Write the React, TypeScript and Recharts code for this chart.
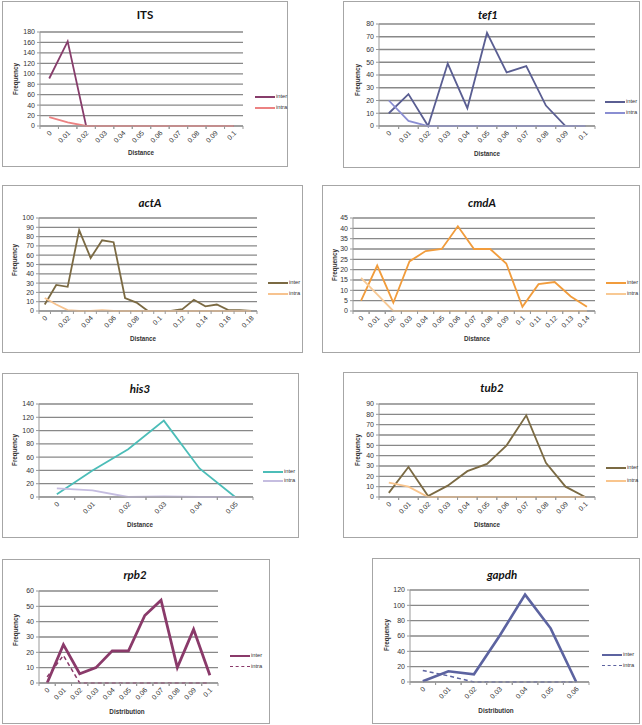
import React from "react";
import { LineChart, Line, XAxis, YAxis, CartesianGrid } from "recharts";

// categories
const dist6 = ["0", "0.01", "0.02", "0.03", "0.04", "0.05"];
const dist7 = ["0", "0.01", "0.02", "0.03", "0.04", "0.05", "0.06"];
const dist11 = ["0", "0.01", "0.02", "0.03", "0.04", "0.05", "0.06", "0.07", "0.08", "0.09", "0.1"];
const dist15 = ["0", "0.01", "0.02", "0.03", "0.04", "0.05", "0.06", "0.07", "0.08", "0.09", "0.1", "0.11", "0.12", "0.13", "0.14"];
const dist19 = ["0", "0.01", "0.02", "0.03", "0.04", "0.05", "0.06", "0.07", "0.08", "0.09", "0.1", "0.11", "0.12", "0.13", "0.14", "0.15", "0.16", "0.17", "0.18"];

// series values
const itsInter = [91, 162, 0, 0, 0, 0, 0, 0, 0, 0, 0];
const itsIntra = [17, 7, 0, 0, 0, 0, 0, 0, 0, 0, 0];
const tef1Inter = [10, 25, 0, 49, 14, 73, 42, 47, 16, 0, 0];
const tef1Intra = [20, 4, 0, 0, 0, 0, 0, 0, 0, 0, 0];
const actAInter = [7, 28, 26, 87, 57, 76, 74, 14, 9, 0, 0, 0, 2, 12, 5, 7, 1, 1, 0];
const actAIntra = [14, 7, 1, 0, 0, 1, 0, 0, 0, 0, 0, 0, 0, 0, 0, 0, 0, 0, 0];
const cmdAInter = [5, 22, 4, 24, 29, 30, 41, 30, 30, 23, 2, 13, 14, 7, 2];
const cmdAIntra = [16, 8, 0, 0, 0, 0, 0, 0, 0, 0, 0, 0, 0, 0, 0];
const his3Inter = [4, 40, 72, 115, 43, 0];
const his3Intra = [13, 10, 0, 1, 0, 0];
const tub2Inter = [4, 29, 1, 11, 25, 32, 50, 79, 33, 10, 0];
const tub2Intra = [14, 10, 0, 0, 0, 0, 0, 0, 0, 0, 0];
const rpb2Inter = [0, 25, 6, 10, 21, 21, 44, 54, 10, 35, 5];
const rpb2Intra = [4, 18, 0, 0, 0, 0, 0, 0, 0, 0, 0];
const gapdhInter = [1, 14, 10, 60, 114, 70, 0];
const gapdhIntra = [15, 8, 0, 0, 0, 0, 0];

// y tick labels
const ticks180 = [0, 20, 40, 60, 80, 100, 120, 140, 160, 180];
const ticks80 = [0, 10, 20, 30, 40, 50, 60, 70, 80];
const ticks100 = [0, 10, 20, 30, 40, 50, 60, 70, 80, 90, 100];
const ticks45 = [0, 5, 10, 15, 20, 25, 30, 35, 40, 45];
const ticks140 = [0, 20, 40, 60, 80, 100, 120, 140];
const ticks90 = [0, 10, 20, 30, 40, 50, 60, 70, 80, 90];
const ticks60 = [0, 10, 20, 30, 40, 50, 60];
const ticks120 = [0, 20, 40, 60, 80, 100, 120];

type PanelDef = {
  title: string;
  italic: boolean;
  cats: string[];
  inter: number[];
  intra: number[];
  yTicks: number[];
  interColor: string;
  intraColor: string;
  lineWidth: number;
  dashed: boolean;
  xLabel: string;
  interval: number;
  box: number[]; // l, t, r, b
  plot: number[]; // l, t, r, b
  titlePos: number[];
  xLabelPos: number[];
  yLabelPos: number[];
  legendPos: number[]; // x, yInter, yIntra
};

const panels: PanelDef[] = [
  {
    title: "ITS", italic: false, cats: dist11, inter: itsInter, intra: itsIntra, yTicks: ticks180,
    interColor: "#873d6b", intraColor: "#ec8282", lineWidth: 1.8, dashed: false, xLabel: "Distance", interval: 0,
    box: [2, 1, 288, 167], plot: [40, 32, 243, 126], titlePos: [145, 15], xLabelPos: [141, 153],
    yLabelPos: [16, 79], legendPos: [255, 97, 108],
  },
  {
    title: "tef1", italic: true, cats: dist11, inter: tef1Inter, intra: tef1Intra, yTicks: ticks80,
    interColor: "#5a5e92", intraColor: "#8a8ed2", lineWidth: 1.8, dashed: false, xLabel: "Distance", interval: 0,
    box: [343, 1, 640, 168], plot: [379, 24, 595, 126], titlePos: [488, 15], xLabelPos: [487, 154],
    yLabelPos: [358, 80], legendPos: [605, 102, 113],
  },
  {
    title: "actA", italic: true, cats: dist19, inter: actAInter, intra: actAIntra, yTicks: ticks100,
    interColor: "#7b6a43", intraColor: "#f7c38f", lineWidth: 1.8, dashed: false, xLabel: "Distance", interval: 1,
    box: [2, 185, 303, 353], plot: [39, 218, 257, 311], titlePos: [150, 203], xLabelPos: [143, 339],
    yLabelPos: [15, 260], legendPos: [268, 283, 294],
  },
  {
    title: "cmdA", italic: true, cats: dist15, inter: cmdAInter, intra: cmdAIntra, yTicks: ticks45,
    interColor: "#f19c3c", intraColor: "#f8c994", lineWidth: 1.8, dashed: false, xLabel: "Distance", interval: 0,
    box: [322, 185, 640, 353], plot: [353, 218, 595, 311], titlePos: [482, 203], xLabelPos: [477, 339],
    yLabelPos: [335, 265], legendPos: [606, 283, 294],
  },
  {
    title: "his3", italic: true, cats: dist6, inter: his3Inter, intra: his3Intra, yTicks: ticks140,
    interColor: "#4cbdb8", intraColor: "#c5bde0", lineWidth: 1.8, dashed: false, xLabel: "Distance", interval: 0,
    box: [2, 373, 299, 538], plot: [39, 404, 253, 497], titlePos: [140, 389], xLabelPos: [140, 525],
    yLabelPos: [15, 450], legendPos: [263, 472, 481],
  },
  {
    title: "tub2", italic: true, cats: dist11, inter: tub2Inter, intra: tub2Intra, yTicks: ticks90,
    interColor: "#7b6a43", intraColor: "#f9c58d", lineWidth: 1.8, dashed: false, xLabel: "Distance", interval: 0,
    box: [343, 372, 638, 538], plot: [379, 404, 595, 497], titlePos: [492, 388], xLabelPos: [487, 525],
    yLabelPos: [358, 450], legendPos: [606, 468, 481],
  },
  {
    title: "rpb2", italic: true, cats: dist11, inter: rpb2Inter, intra: rpb2Intra, yTicks: ticks60,
    interColor: "#8a3a6a", intraColor: "#8a3a6a", lineWidth: 2.8, dashed: true, xLabel: "Distribution", interval: 0,
    box: [2, 559, 270, 724], plot: [39, 591, 218, 683], titlePos: [135, 575], xLabelPos: [127, 712],
    yLabelPos: [16, 630], legendPos: [230, 656, 667],
  },
  {
    title: "gapdh", italic: true, cats: dist7, inter: gapdhInter, intra: gapdhIntra, yTicks: ticks120,
    interColor: "#5c63a0", intraColor: "#5c63a0", lineWidth: 2.6, dashed: true, xLabel: "Distribution", interval: 0,
    box: [372, 558, 640, 724], plot: [410, 590, 589, 682], titlePos: [502, 575], xLabelPos: [496, 711],
    yLabelPos: [387, 635], legendPos: [602, 655, 666],
  },
];

const AXIS = "#999";
const TXT = "#333";
const SANS = "'Liberation Sans', Arial, sans-serif";

function XTick(props: any) {
  const { x, y, payload, band } = props;
  const ax = x + 3;
  const ay = y + 7.5;
  return (
    <g>
      <line x1={x - band / 2} x2={x - band / 2} y1={y} y2={y + 3} stroke={AXIS} />
      <line x1={x + band / 2} x2={x + band / 2} y1={y} y2={y + 3} stroke={AXIS} />
      <text x={ax} y={ay} transform={`rotate(-45, ${ax}, ${ay})`} textAnchor="end"
        fontSize={7} fill={TXT} fontFamily={SANS}>
        {payload.value}
      </text>
    </g>
  );
}

const center: React.CSSProperties = {
  position: "absolute", transform: "translate(-50%, -50%)", whiteSpace: "nowrap", lineHeight: 1,
};

function Panel({ p }: { p: PanelDef }) {
  const [bl, bt, br, bb] = p.box;
  const [pl, pt, pr, pb] = p.plot;
  const w = br - bl;
  const h = bb - bt;
  const band = (pr - pl) / p.cats.length;
  const data = p.cats.map((c, i) => ({ d: c, inter: p.inter[i], intra: p.intra[i] }));
  const yMax = p.yTicks[p.yTicks.length - 1];
  const [lx, ly1, ly2] = p.legendPos;

  return (
    <>
      <div style={{ position: "absolute", left: bl, top: bt, width: w, height: h, border: "1.5px solid #a6a6a6", boxSizing: "border-box" }} />
      <div style={{ position: "absolute", left: bl, top: bt }}>
        <LineChart width={w} height={h} data={data} margin={{ top: pt - bt, right: br - pr, bottom: 0, left: 0 }}>
          <CartesianGrid vertical={false} stroke="#888" strokeWidth={1.3} />
          <XAxis dataKey="d" interval={p.interval} padding={{ left: band / 2, right: band / 2 }}
            height={bb - pb} tickLine={false} tickSize={0} tickMargin={0}
            axisLine={{ stroke: AXIS }} tick={(tp: any) => <XTick {...tp} band={band} />} />
          <YAxis width={pl - bl} domain={[0, yMax]} ticks={p.yTicks} interval={0} tickSize={3} tickMargin={2}
            axisLine={{ stroke: AXIS }} tickLine={{ stroke: AXIS }}
            tick={{ fontSize: 7, fill: TXT, fontFamily: SANS }} />
          <Line type="linear" dataKey="inter" stroke={p.interColor} strokeWidth={p.lineWidth} dot={false} isAnimationActive={false} />
          <Line type="linear" dataKey="intra" stroke={p.intraColor} strokeWidth={p.dashed ? 1.5 : p.lineWidth}
            strokeDasharray={p.dashed ? "4 3" : undefined} dot={false} isAnimationActive={false} />
        </LineChart>
      </div>
      <div style={{ ...center, left: p.titlePos[0], top: p.titlePos[1], fontFamily: "Lato, sans-serif", fontWeight: 700, fontStyle: p.italic ? "italic" : "normal", fontSize: 11.5, color: "#111" }}>
        {p.title}
      </div>
      <div style={{ ...center, left: p.xLabelPos[0], top: p.xLabelPos[1], fontFamily: SANS, fontWeight: 700, fontSize: 6.3, color: TXT }}>
        {p.xLabel}
      </div>
      <div style={{ ...center, left: p.yLabelPos[0], top: p.yLabelPos[1], transform: "translate(-50%, -50%) rotate(-90deg)", fontFamily: SANS, fontWeight: 700, fontSize: 6.3, color: TXT }}>
        Frequency
      </div>
      <div style={{ position: "absolute", left: lx, top: ly1 - 3, display: "flex", alignItems: "center", fontFamily: SANS, fontSize: 5.8, color: TXT, lineHeight: 1 }}>
        <span style={{ display: "inline-block", width: 20, height: 0, borderTop: `${p.dashed ? 2.5 : 2}px solid ${p.interColor}`, marginRight: 1 }} />
        inter
      </div>
      <div style={{ position: "absolute", left: lx, top: ly2 - 3, display: "flex", alignItems: "center", fontFamily: SANS, fontSize: 5.8, color: TXT, lineHeight: 1 }}>
        <span style={{ display: "inline-block", width: 20, height: 0, borderTop: `${p.dashed ? 1.5 : 2}px ${p.dashed ? "dashed" : "solid"} ${p.intraColor}`, marginRight: 1 }} />
        intra
      </div>
    </>
  );
}

export default function App() {
  return (
    <div style={{ position: "absolute", left: 0, top: 0, width: 642, height: 725, background: "#fff", fontFamily: SANS }}>
      {panels.map((p) => (
        <Panel key={p.title} p={p} />
      ))}
    </div>
  );
}
